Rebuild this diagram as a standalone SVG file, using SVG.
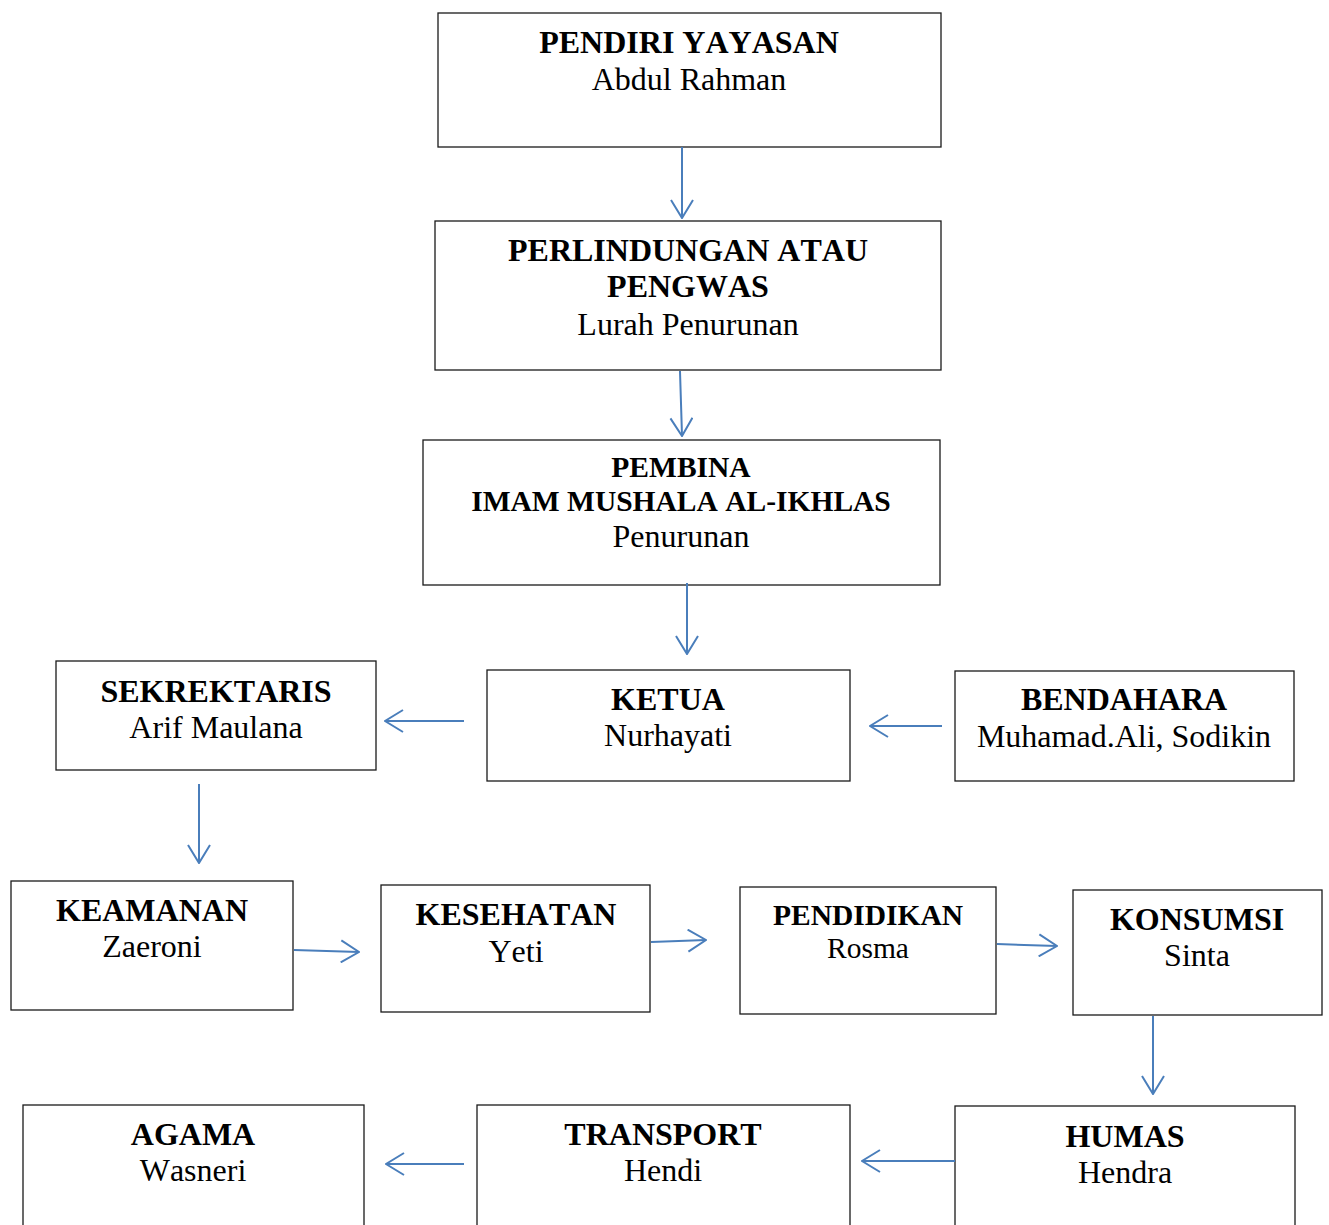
<svg xmlns="http://www.w3.org/2000/svg" width="1329" height="1225" viewBox="0 0 1329 1225">
<style>
.box{fill:#fff;stroke:#1a1a1a;stroke-width:1.3}
text{font-family:"Liberation Serif","Times New Roman",serif;fill:#000;text-anchor:middle;font-kerning:none}
.t{font-weight:bold;font-size:32px}
.n{font-size:32px}
.s{font-size:29.5px}
.conn line{stroke:#4a7ebb;stroke-width:2}
</style>
<defs>
<marker id="arr" viewBox="0 0 20 24" refX="19" refY="12" markerWidth="20" markerHeight="24" markerUnits="userSpaceOnUse" orient="auto">
<path d="M1,1 L19,12 L1,23" fill="none" stroke="#4a7ebb" stroke-width="2"/>
</marker>
</defs>
<rect width="1329" height="1225" fill="#fff"/>
<g id="pendiri"><rect class="box" x="438" y="13" width="503" height="134"/><text class="t" x="689" y="53">PENDIRI YAYASAN</text><text class="n" x="689" y="90">Abdul Rahman</text></g>
<g id="perlindungan"><rect class="box" x="435" y="221" width="506" height="149"/><text class="t" x="688" y="261">PERLINDUNGAN ATAU</text><text class="t" x="688" y="297">PENGWAS</text><text class="n" x="688" y="335">Lurah Penurunan</text></g>
<g id="pembina"><rect class="box" x="423" y="440" width="517" height="145"/><text class="t" style="font-size:29.5px" x="681" y="477">PEMBINA</text><text class="t" style="font-size:29.5px" x="681" y="511">IMAM MUSHALA AL-IKHLAS</text><text class="n" x="681" y="547">Penurunan</text></g>
<g id="sekrektaris"><rect class="box" x="56" y="661" width="320" height="109"/><text class="t" x="216" y="702">SEKREKTARIS</text><text class="n" x="216" y="738">Arif Maulana</text></g>
<g id="ketua"><rect class="box" x="487" y="670" width="363" height="111"/><text class="t" x="668" y="710">KETUA</text><text class="n" x="668" y="746">Nurhayati</text></g>
<g id="bendahara"><rect class="box" x="955" y="671" width="339" height="110"/><text class="t" x="1124" y="710">BENDAHARA</text><text class="n" x="1124" y="747">Muhamad.Ali, Sodikin</text></g>
<g id="keamanan"><rect class="box" x="11" y="881" width="282" height="129"/><text class="t" x="152" y="921">KEAMANAN</text><text class="n" x="152" y="957">Zaeroni</text></g>
<g id="kesehatan"><rect class="box" x="381" y="885" width="269" height="127"/><text class="t" x="516" y="925">KESEHATAN</text><text class="n" x="516" y="962">Yeti</text></g>
<g id="pendidikan"><rect class="box" x="740" y="887" width="256" height="127"/><text class="t" style="font-size:29.5px" x="868" y="925">PENDIDIKAN</text><text class="s" x="868" y="958">Rosma</text></g>
<g id="konsumsi"><rect class="box" x="1073" y="890" width="249" height="125"/><text class="t" x="1197" y="930">KONSUMSI</text><text class="n" x="1197" y="966">Sinta</text></g>
<g id="humas"><rect class="box" x="955" y="1106" width="340" height="130"/><text class="t" x="1125" y="1147">HUMAS</text><text class="n" x="1125" y="1183">Hendra</text></g>
<g id="transport"><rect class="box" x="477" y="1105" width="373" height="131"/><text class="t" x="663" y="1145">TRANSPORT</text><text class="n" x="663" y="1181">Hendi</text></g>
<g id="agama"><rect class="box" x="23" y="1105" width="341" height="131"/><text class="t" x="193" y="1145">AGAMA</text><text class="n" x="193" y="1181">Wasneri</text></g>
<g id="connectors" class="conn">
<line x1="682" y1="147" x2="682" y2="218" marker-end="url(#arr)"/>
<line x1="680" y1="371" x2="682" y2="436" marker-end="url(#arr)"/>
<line x1="687" y1="583" x2="687" y2="654" marker-end="url(#arr)"/>
<line x1="464" y1="721" x2="385" y2="721" marker-end="url(#arr)"/>
<line x1="942" y1="726" x2="870" y2="726" marker-end="url(#arr)"/>
<line x1="199" y1="784" x2="199" y2="863" marker-end="url(#arr)"/>
<line x1="294" y1="950" x2="359" y2="952" marker-end="url(#arr)"/>
<line x1="651" y1="942" x2="706" y2="940" marker-end="url(#arr)"/>
<line x1="997" y1="944" x2="1057" y2="946" marker-end="url(#arr)"/>
<line x1="1153" y1="1016" x2="1153" y2="1094" marker-end="url(#arr)"/>
<line x1="955" y1="1161" x2="862" y2="1161" marker-end="url(#arr)"/>
<line x1="464" y1="1164" x2="386" y2="1164" marker-end="url(#arr)"/>
</g>
</svg>
